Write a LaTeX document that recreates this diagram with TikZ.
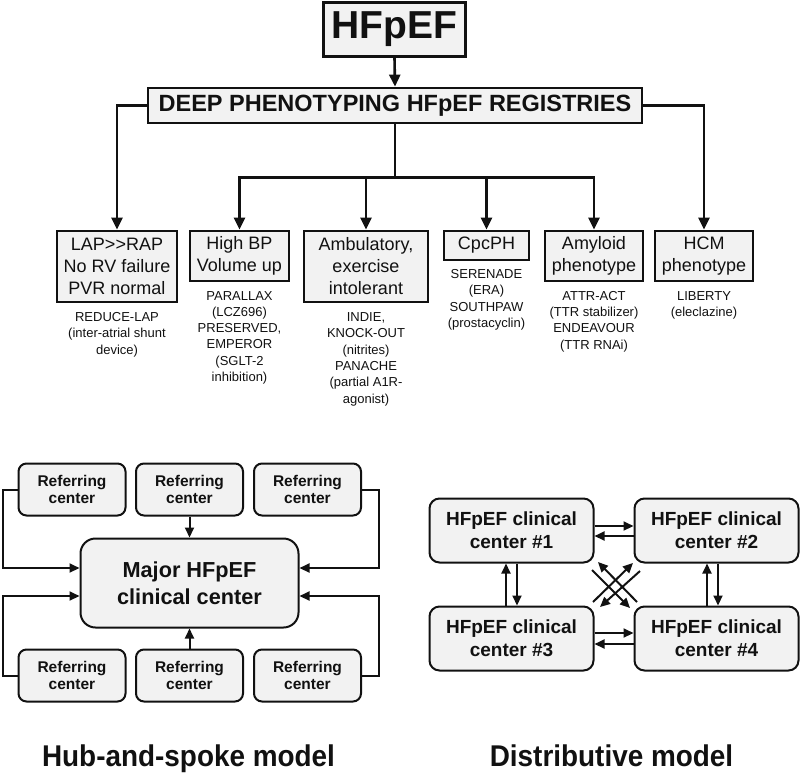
\documentclass[tikz,border=0pt]{standalone}
\usepackage{fontspec}
\setmainfont{Liberation Sans}
\usetikzlibrary{arrows.meta,calc}
\definecolor{boxfill}{HTML}{F2F2F2}
\definecolor{ink}{HTML}{111111}
\begin{document}
\begin{tikzpicture}[x=1pt,y=-1pt,
  sqbox/.style={draw=ink,line width=2.8pt,fill=boxfill,inner sep=0pt,align=center,text=ink},
  phbox/.style={sqbox,font=\fontsize{18}{22}\selectfont},
  subtext/.style={anchor=north,inner sep=0pt,align=center,text=ink,font=\fontsize{13}{16.3}\selectfont},
  tarr/.style={draw=ink,line width=2.6pt,-{Triangle[length=12pt,width=11pt]}},
  tline/.style={draw=ink,line width=2.6pt},
  rbox/.style={draw=ink,line width=2pt,fill=boxfill,rounded corners=8pt,inner sep=0pt,align=center,text=ink,minimum width=107pt,minimum height=52pt,font=\bfseries\fontsize{15.5}{17.5}\selectfont},
  dbox/.style={draw=ink,line width=2pt,fill=boxfill,rounded corners=10pt,inner sep=0pt,align=center,text=ink,minimum width=164pt,minimum height=64pt,font=\bfseries\fontsize{19}{23}\selectfont},
  barr/.style={draw=ink,line width=2pt,-{Triangle[length=10pt,width=9pt]}},
  ttl/.style={anchor=base,inner sep=0pt,text=ink,font=\bfseries\fontsize{30}{34}\selectfont}
]
\useasboundingbox (0,0) rectangle (800,772);

% ---------- tree ----------
\node[sqbox,minimum width=142pt,minimum height=54pt,font=\bfseries\fontsize{39}{44}\selectfont] (hf) at (394.5,29.5) {HFpEF};
\node[sqbox,minimum width=494pt,minimum height=35pt,font=\bfseries\fontsize{23.5}{26}\selectfont] (reg) at (395,105.5) {DEEP PHENOTYPING HFpEF REGISTRIES};

\node[phbox,minimum width=120pt,minimum height=71pt] (lap) at (117,266.5) {LAP>{}>RAP\\No RV failure\\PVR normal};
\node[phbox,minimum width=99pt,minimum height=50pt] (hbp) at (239.5,256) {High BP\\Volume up};
\node[phbox,minimum width=124pt,minimum height=71pt] (amb) at (366,266.5) {Ambulatory,\\exercise\\intolerant};
\node[phbox,minimum width=85pt,minimum height=29pt] (cpc) at (486.5,245.5) {CpcPH};
\node[phbox,minimum width=98pt,minimum height=50pt] (amy) at (594,256) {Amyloid\\phenotype};
\node[phbox,minimum width=98pt,minimum height=50pt] (hcm) at (704,256) {HCM\\phenotype};

\node[subtext] (lapt) at ($(lap.south)+(0,9)$) {REDUCE-LAP\\(inter-atrial shunt\\device)};
\node[subtext] (hbpt) at ($(hbp.south)+(0,8.5)$) {PARALLAX\\(LCZ696)\\PRESERVED,\\EMPEROR\\(SGLT-2\\inhibition)};
\node[subtext] (ambt) at ($(amb.south)+(0,9)$) {INDIE,\\KNOCK-OUT\\(nitrites)\\PANACHE\\(partial A1R-\\agonist)};
\node[subtext] (cpct) at ($(cpc.south)+(0,8)$) {SERENADE\\(ERA)\\SOUTHPAW\\(prostacyclin)};
\node[subtext] (amyt) at ($(amy.south)+(0,8.5)$) {ATTR-ACT\\(TTR stabilizer)\\ENDEAVOUR\\(TTR RNAi)};
\node[subtext] (hcmt) at ($(hcm.south)+(0,8.5)$) {LIBERTY\\(eleclazine)};

\draw[tarr] (hf.south) -- (reg.north);
\draw[tarr] (reg.west) -| (lap.north);
\draw[tarr] (reg.east) -| (hcm.north);
\draw[tline] (reg.south) -- ++(0,53) coordinate (j);
\draw[tline,line cap=rect] (hbp.north |- j) -- (amy.north |- j);
\draw[tarr] (hbp.north |- j) -- (hbp.north);
\draw[tarr] (amb.north |- j) -- (amb.north);
\draw[tarr] (cpc.north |- j) -- (cpc.north);
\draw[tarr] (amy.north |- j) -- (amy.north);

% ---------- hub and spoke ----------
\node[rbox] (r1) at (72,489.5) {Referring\\center};
\node[rbox] (r2) at (189.5,489.5) {Referring\\center};
\node[rbox] (r3) at (307.5,489.5) {Referring\\center};
\node[rbox] (r4) at (72,675.5) {Referring\\center};
\node[rbox] (r5) at (189.5,675.5) {Referring\\center};
\node[rbox] (r6) at (307.5,675.5) {Referring\\center};
\node[draw=ink,line width=2pt,fill=boxfill,rounded corners=15pt,inner sep=0pt,align=center,text=ink,minimum width=218pt,minimum height=89pt,font=\bfseries\fontsize{21.7}{27}\selectfont] (maj) at (189.5,583) {Major HFpEF\\clinical center};

\draw[barr] (r1.west) -- ++(-15,0) |- ($(maj.west)+(0,-15)$);
\draw[barr] (r4.west) -- ++(-15,0) |- ($(maj.west)+(0,13)$);
\draw[barr] (r3.east) -- ++(17,0) |- ($(maj.east)+(0,-15)$);
\draw[barr] (r6.east) -- ++(17,0) |- ($(maj.east)+(0,13)$);
\draw[barr] (r2.south) -- (maj.north);
\draw[barr] (r5.north) -- (maj.south);

% ---------- distributive ----------
\node[dbox] (d1) at (511.5,530.5) {HFpEF clinical\\center \#1};
\node[dbox] (d2) at (716.5,530.5) {HFpEF clinical\\center \#2};
\node[dbox] (d3) at (511.5,638.5) {HFpEF clinical\\center \#3};
\node[dbox] (d4) at (716.5,638.5) {HFpEF clinical\\center \#4};

\draw[barr] ($(d1.east)+(0,-4.5)$) -- ($(d2.west)+(0,-4.5)$);
\draw[barr] ($(d2.west)+(0,5.5)$) -- ($(d1.east)+(0,5.5)$);
\draw[barr] ($(d3.east)+(0,-5.5)$) -- ($(d4.west)+(0,-5.5)$);
\draw[barr] ($(d4.west)+(0,5.5)$) -- ($(d3.east)+(0,5.5)$);
\draw[barr] ($(d3.north)+(-5.5,0)$) -- ($(d1.south)+(-5.5,0)$);
\draw[barr] ($(d1.south)+(5.5,0)$) -- ($(d3.north)+(5.5,0)$);
\draw[barr] ($(d4.north)+(-9.5,0)$) -- ($(d2.south)+(-9.5,0)$);
\draw[barr] ($(d2.south)+(1.5,0)$) -- ($(d4.north)+(1.5,0)$);

\coordinate (xa1) at (592,570);
\coordinate (xa2) at (630,608);
\coordinate (xb1) at (637,602);
\coordinate (xb2) at (598,562);
\coordinate (xc1) at (593,602);
\coordinate (xc2) at (633,563);
\coordinate (xd1) at (640,571);
\coordinate (xd2) at (600,607);
\draw[barr] (xa1) -- (xa2);
\draw[barr] (xb1) -- (xb2);
\draw[barr] (xc1) -- (xc2);
\draw[barr] (xd1) -- (xd2);

% ---------- titles ----------
\node[ttl] (t1) at (188.5,766) {\scalebox{0.93}[1]{Hub-and-spoke model}};
\node[ttl] (t2) at (611.5,766) {\scalebox{0.93}[1]{Distributive model}};
\end{tikzpicture}
\end{document}
